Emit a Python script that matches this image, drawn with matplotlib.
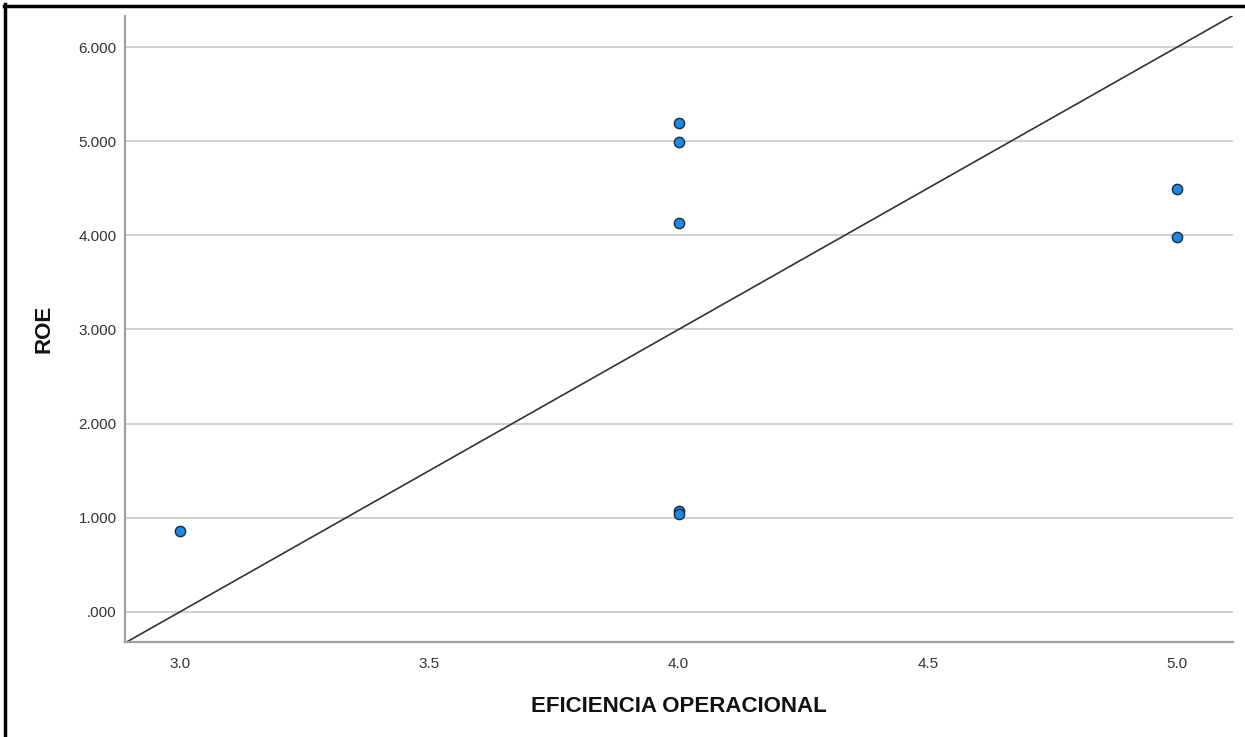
import matplotlib.pyplot as plt
from matplotlib.lines import Line2D
from matplotlib.ticker import FuncFormatter

# data
eficiencia = [3.0, 4.0, 4.0, 4.0, 4.0, 4.0, 5.0, 5.0]
roe = [0.86, 5.19, 4.99, 4.13, 1.07, 1.04, 4.49, 3.98]
x_ticks = [3.0, 3.5, 4.0, 4.5, 5.0]
y_ticks = [0, 1, 2, 3, 4, 5, 6]
# reference line y = 3x - 9
line_slope = 3.0
line_icept = -9.0

plt.rcParams['font.family'] = ['Liberation Sans', 'DejaVu Sans']

fig = plt.figure(figsize=(12.45, 7.37), dpi=100)
ax = fig.add_axes([125 / 1245, 95 / 737, 1108 / 1245, 626 / 737])

xlim = (2.89, 5.112)
ax.set_xlim(*xlim)
ax.set_ylim(-0.32, 6.33)

ax.set_yticks(y_ticks)
ax.set_xticks(x_ticks)
ax.yaxis.grid(True, color='#c8c8c8', linewidth=1.2)
ax.set_axisbelow(True)

ax.plot(list(xlim), [line_slope * v + line_icept for v in xlim],
        color='#333333', linewidth=1.2, zorder=2)
ax.scatter(eficiencia, roe, s=55, color='#1e88e5', edgecolor='#1a2a3a',
           linewidth=1.0, zorder=3)

def fmt_y(v, pos):
    s = f'{v:.3f}'
    return s[1:] if s.startswith('0') else s

ax.yaxis.set_major_formatter(FuncFormatter(fmt_y))
ax.xaxis.set_major_formatter(FuncFormatter(lambda v, p: f'{v:.1f}'))

for side in ['top', 'right']:
    ax.spines[side].set_visible(False)
for side in ['left', 'bottom']:
    ax.spines[side].set_color('#a0a0a0')
    ax.spines[side].set_linewidth(1.6)

ax.tick_params(length=0, labelsize=11, colors='#333333')
ax.tick_params(axis='x', pad=11)
ax.tick_params(axis='y', pad=6)

ax.set_xlabel('EFICIENCIA OPERACIONAL', fontsize=16, fontweight='bold',
              color='#111111', labelpad=18)
ax.set_ylabel('ROE', fontsize=16, fontweight='bold', color='#111111',
              labelpad=17)

# outer frame (left and top edges)
fig.add_artist(Line2D([5.5 / 1245, 5.5 / 1245], [0, 1 - 4 / 737],
                      color='black', linewidth=2.5, transform=fig.transFigure))
fig.add_artist(Line2D([4 / 1245, 1], [1 - 5.5 / 737, 1 - 5.5 / 737],
                      color='black', linewidth=2.5, transform=fig.transFigure))

fig.savefig('out.png', dpi=100)
